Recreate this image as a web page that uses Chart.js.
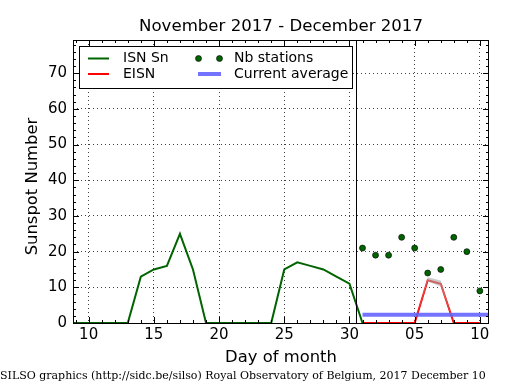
<!DOCTYPE html>
<html>
<head>
<meta charset="utf-8">
<title>Sunspot Number - November 2017 / December 2017</title>
<script src="https://cdn.jsdelivr.net/npm/chart.js@4/dist/chart.umd.min.js"></script>
<style>
  html, body { margin: 0; padding: 0; background: #fff; }
</style>
</head>
<body>
<canvas id="sunspotChart" width="515" height="390"></canvas>
<script>
/* --- data ------------------------------------------------------------- */
const isnDays       = [8, 9, 10, 11, 12, 13, 14, 15, 16, 17, 18, 19, 20, 21, 22, 23, 24, 25, 26, 27, 28, 29, 30, 31];
const isnValues     = [0, 0, 0, 0, 0, 0, 13, 15, 16, 25, 15, 0, 0, 0, 0, 0, 0, 15, 17, 16, 15, 13, 11, 0];

const eisnDays      = [31, 32, 33, 34, 35, 36, 37, 38, 39, 40];
const eisnValues    = [0, 0, 0, 0, 0, 12, 11, 0, 0, 0];
const eisnUpper     = [0, 0, 0, 0, 0, 12.8, 11.9, 0, 0, 0];
const eisnLower     = [0, 0, 0, 0, 0, 11.6, 10.2, 0, 0, 0];

const stationDays   = [31, 32, 33, 34, 35, 36, 37, 38, 39, 40];
const stationValues = [21, 19, 19, 24, 21, 14, 15, 24, 20, 9];

const averageDays   = [31, 41];
const averageValues = [2.3, 2.3];

const monthSplitDay = 30.5;

const xTickValues = [10, 15, 20, 25, 30, 35, 40];
const xTickLabels = ["10", "15", "20", "25", "30", "05", "10"];
const yTickValues = [0, 10, 20, 30, 40, 50, 60, 70];

const chartTitle  = "November 2017 - December 2017";
const xAxisTitle  = "Day of month";
const yAxisTitle  = "Sunspot Number";
const footerText  = "SILSO graphics (http://sidc.be/silso) Royal Observatory of Belgium, 2017 December 10";

/* --- helpers ----------------------------------------------------------- */
const FONT = "'DejaVu Sans', 'Liberation Sans', sans-serif";
const GREEN = "#006400";
const toPoints = (xs, ys) => xs.map((x, i) => ({ x: x, y: ys[i] }));

// matplotlib-style frame, inward ticks, month split, legend and texts
const mplDecorations = {
    id: "mplDecorations",
    afterDatasetsDraw(chart) {
        const ctx = chart.ctx;
        const { left, right, top, bottom } = chart.chartArea;
        const xs = chart.scales.x, ys = chart.scales.y;

        ctx.save();
        ctx.strokeStyle = "#000";
        ctx.lineWidth = 1;

        // boundary between the two months
        const splitX = Math.round(xs.getPixelForValue(monthSplitDay)) + 0.5;
        ctx.beginPath();
        ctx.moveTo(splitX, top);
        ctx.lineTo(splitX, bottom);
        ctx.stroke();

        ctx.strokeRect(left + 0.5, top + 0.5, right - left - 1, bottom - top);

        // x ticks, every day, major every 5
        ctx.beginPath();
        for (let d = Math.ceil(xs.min); d <= Math.floor(xs.max); d++) {
            const px = Math.round(xs.getPixelForValue(d)) + 0.5;
            const len = xTickValues.includes(d) ? 6 : 3;
            ctx.moveTo(px, bottom); ctx.lineTo(px, bottom - len);
            ctx.moveTo(px, top);    ctx.lineTo(px, top + len);
        }
        // y ticks, every 2, major every 10
        for (let v = 0; v <= ys.max; v += 2) {
            const py = Math.round(ys.getPixelForValue(v)) + 0.5;
            const len = yTickValues.includes(v) ? 6 : 3;
            ctx.moveTo(left, py);  ctx.lineTo(left + len, py);
            ctx.moveTo(right, py); ctx.lineTo(right - len, py);
        }
        ctx.stroke();
        ctx.restore();
    },
    afterDraw(chart) {
        const ctx = chart.ctx;
        const { left, right, top, bottom } = chart.chartArea;
        const midX = (left + right) / 2;

        ctx.save();
        ctx.fillStyle = "#000";
        ctx.textAlign = "center";
        ctx.textBaseline = "alphabetic";

        ctx.font = "16.6px " + FONT;
        ctx.fillText(chartTitle, midX, 31);

        ctx.font = "16.4px " + FONT;
        ctx.fillText(xAxisTitle, midX, 362);

        ctx.save();
        ctx.translate(37, (top + bottom) / 2 + 5);
        ctx.rotate(-Math.PI / 2);
        ctx.fillText(yAxisTitle, 0, 0);
        ctx.restore();

        ctx.font = "11px 'DejaVu Serif', 'Liberation Serif', serif";
        ctx.textAlign = "left";
        ctx.fillText(footerText, 0, 379);

        // legend box
        ctx.fillStyle = "#fff";
        ctx.fillRect(79.5, 46.5, 273, 42);
        ctx.strokeStyle = "#000";
        ctx.lineWidth = 1;
        ctx.strokeRect(79.5, 46.5, 273, 42);

        const row1 = 58.5, row2 = 74;
        const drawSample = (x0, x1, y, color, width) => {
            ctx.beginPath();
            ctx.strokeStyle = color;
            ctx.lineWidth = width;
            ctx.moveTo(x0, y); ctx.lineTo(x1, y);
            ctx.stroke();
        };
        drawSample(88, 109, row1, GREEN, 2);
        drawSample(88, 109, row2, "#ff0000", 2);
        drawSample(198, 221, row2, "rgba(90,90,255,0.85)", 4);
        [198.5, 219.5].forEach(cx => {
            ctx.beginPath();
            ctx.arc(cx, row1, 3, 0, Math.PI * 2);
            ctx.fillStyle = GREEN;
            ctx.fill();
            ctx.lineWidth = 0.6;
            ctx.strokeStyle = "#000";
            ctx.stroke();
        });

        ctx.fillStyle = "#000";
        ctx.font = "14px " + FONT;
        ctx.textBaseline = "middle";
        ctx.fillText("ISN Sn", 123, row1);
        ctx.fillText("EISN", 123, row2);
        ctx.fillText("Nb stations", 234, row1);
        ctx.fillText("Current average", 234, row2);
        ctx.restore();
    }
};

/* --- chart ------------------------------------------------------------- */
const noClip = { left: 0, top: 0, right: 0, bottom: 0 };

new Chart(document.getElementById("sunspotChart"), {
    type: "line",
    data: {
        datasets: [
            {
                label: "EISN band",
                data: toPoints(eisnDays, eisnUpper),
                borderWidth: 0,
                pointRadius: 0,
                backgroundColor: "rgba(170,170,170,0.6)",
                fill: "+1",
                clip: noClip
            },
            {
                label: "EISN band low",
                data: toPoints(eisnDays, eisnLower),
                borderWidth: 0,
                pointRadius: 0,
                fill: false,
                clip: noClip
            },
            {
                label: "Current average",
                data: toPoints(averageDays, averageValues),
                borderColor: "rgba(90,90,255,0.85)",
                borderWidth: 4,
                pointRadius: 0,
                clip: noClip
            },
            {
                label: "ISN Sn",
                data: toPoints(isnDays, isnValues),
                borderColor: GREEN,
                borderWidth: 2,
                pointRadius: 0,
                clip: noClip
            },
            {
                label: "EISN",
                data: toPoints(eisnDays, eisnValues),
                borderColor: "#ff0000",
                borderWidth: 2,
                pointRadius: 0,
                clip: noClip
            },
            {
                label: "Nb stations",
                data: toPoints(stationDays, stationValues),
                showLine: false,
                pointRadius: 3,
                pointBackgroundColor: GREEN,
                pointBorderColor: "#000",
                pointBorderWidth: 0.6,
                clip: noClip
            }
        ]
    },
    options: {
        responsive: false,
        animation: false,
        events: [],
        layout: { padding: { top: 40, right: 26, left: 0, bottom: 0 } },
        plugins: {
            legend: { display: false },
            tooltip: { enabled: false },
            title: { display: false }
        },
        scales: {
            x: {
                type: "linear",
                min: 8.8,
                max: 40.7,
                afterFit: scale => { scale.height = 67; },
                afterBuildTicks: scale => { scale.ticks = xTickValues.map(v => ({ value: v })); },
                ticks: {
                    autoSkip: false,
                    maxRotation: 0,
                    padding: 3,
                    color: "#000",
                    font: { family: FONT, size: 15 },
                    callback: value => xTickLabels[xTickValues.indexOf(value)]
                },
                grid: { color: "rgba(0,0,0,0.75)", lineWidth: 1, drawTicks: false },
                border: { display: false, dash: [1, 3] }
            },
            y: {
                type: "linear",
                min: 0,
                max: 79.3,
                afterFit: scale => { scale.width = 73; },
                afterBuildTicks: scale => { scale.ticks = yTickValues.map(v => ({ value: v })); },
                ticks: {
                    padding: 6,
                    color: "#000",
                    font: { family: FONT, size: 15 }
                },
                grid: { color: "rgba(0,0,0,0.75)", lineWidth: 1, drawTicks: false },
                border: { display: false, dash: [1, 3] }
            }
        }
    },
    plugins: [mplDecorations]
});
</script>
</body>
</html>
